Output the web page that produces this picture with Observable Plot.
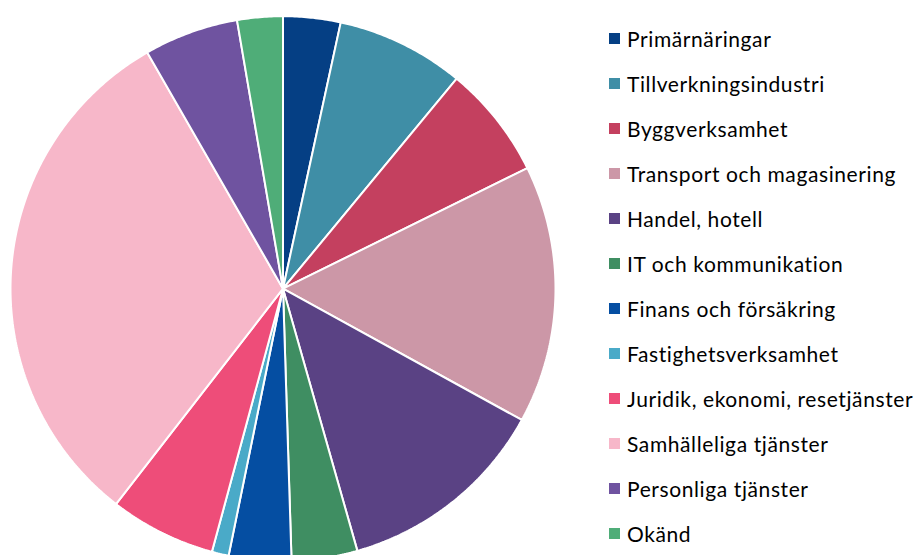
<!DOCTYPE html>
<html>
<head>
<meta charset="utf-8">
<script src="https://cdn.jsdelivr.net/npm/d3@7"></script>
<script src="https://cdn.jsdelivr.net/npm/@observablehq/plot@0.6"></script>
<style>
  html, body { margin: 0; padding: 0; background: #fff; }
  #wrap { position: relative; width: 917px; height: 555px; overflow: hidden; }
  #pie { position: absolute; left: 0; top: 0; }
  #legend { position: absolute; left: 609px; top: 16px; }
  .lg-swatches { font-family: Lato, "Open Sans", sans-serif; font-size: 21px; letter-spacing: 0.6px; color: #000; margin: 0; }
  .lg-swatches-columns .lg-swatch { height: 45px; padding: 0; margin: 0; }
  .lg-swatch > svg { margin-right: 7px; }
  .lg-swatch-label { overflow: visible !important; }
</style>
</head>
<body>
<div id="wrap"><div id="pie"></div><div id="legend"></div></div>
<script>
// Data (percent share per sector)
const categories = [
  "Primärnäringar",
  "Tillverkningsindustri",
  "Byggverksamhet",
  "Transport och magasinering",
  "Handel, hotell",
  "IT och kommunikation",
  "Finans och försäkring",
  "Fastighetsverksamhet",
  "Juridik, ekonomi, resetjänster",
  "Samhälleliga tjänster",
  "Personliga tjänster",
  "Okänd"
];
const values = [3.4, 7.6, 6.7, 15.3, 12.6, 3.9, 3.7, 1.0, 6.3, 31.2, 5.6, 2.7];
const colors = [
  "#053f84", "#3f8ea6", "#c4405f", "#cc97a7", "#5a4284", "#3f8e62",
  "#054ea2", "#4aaac8", "#ee4d79", "#f7b7c9", "#6f53a0", "#4fad78"
];

// Layout
const W = 600, H = 555, cx = 282.5, cy = 288.2, R = 272.5;

// Slice geometry from d3.pie (clockwise from 12 o'clock)
const arcs = d3.pie().sort(null).value(d => d.value)(
  categories.map((name, i) => ({name, value: values[i]}))
);
const pts = [];
for (const a of arcs) {
  const name = a.data.name;
  pts.push({name, x: 0, y: 0});
  const n = Math.max(2, Math.ceil((a.endAngle - a.startAngle) / (Math.PI / 360)));
  for (let k = 0; k <= n; k++) {
    const t = a.startAngle + (a.endAngle - a.startAngle) * k / n;
    pts.push({name, x: Math.sin(t), y: Math.cos(t)});
  }
  pts.push({name, x: 0, y: 0});
}

const plot = Plot.plot({
  width: W,
  height: H,
  margin: 0,
  x: {domain: [-cx / R, (W - cx) / R], axis: null},
  y: {domain: [-(H - cy) / R, cy / R], axis: null},
  color: {type: "ordinal", domain: categories, range: colors},
  marks: [
    Plot.line(pts, {
      x: "x", y: "y", z: "name", fill: "name",
      stroke: "white", strokeWidth: 2, strokeLinejoin: "miter"
    })
  ]
});
document.getElementById("pie").appendChild(plot);

const legend = plot.legend("color", {
  legend: "swatches",
  columns: 1,
  swatchSize: 11,
  className: "lg"
});
document.getElementById("legend").appendChild(legend);
</script>
</body>
</html>
